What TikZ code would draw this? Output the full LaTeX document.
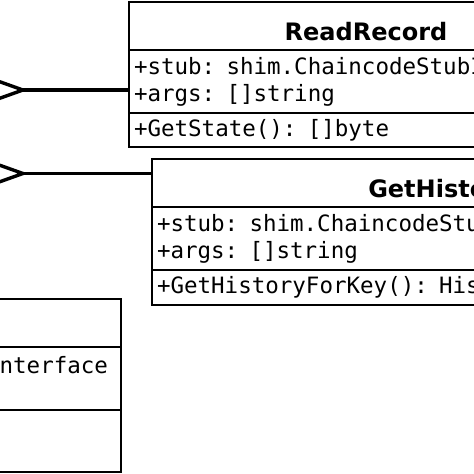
\documentclass[tikz,border=0pt]{standalone}
\usepackage{fontspec}
\newfontfamily\umlmono{DejaVu Sans Mono}
\newfontfamily\umlsans{DejaVu Sans}
\usetikzlibrary{arrows.meta,positioning}
\newcommand{\monosize}{\fontsize{22.5pt}{27pt}\selectfont}
\newcommand{\titlesize}{\fontsize{24pt}{28pt}\selectfont}

\begin{document}
\begin{tikzpicture}[x=1pt,y=-1pt,
  classpart/.style={draw,line width=2.4pt,outer sep=0pt,inner xsep=5pt,inner ysep=0pt,
    align=left,font=\umlmono\monosize},
  classname/.style={classpart,align=center,font=\umlsans\bfseries\titlesize,
    text height=29.5pt,text depth=0pt,minimum height=48pt},
  aggr/.style={line width=3.4pt,-{Diamond[open,length=56pt,width=20pt]}}]
  \useasboundingbox (0,0) rectangle (474,474);
  \clip (0,0) rectangle (474,474);

  % ReadRecord
  \node[classname,text width=464pt,anchor=north west] (rr) at (129,2) {ReadRecord};
  \node[classpart,text width=464pt,minimum height=63pt,below=0pt of rr] (rrattr)
    {+stub: shim.ChaincodeStubI\\+args: []string};
  \node[classpart,text width=464pt,minimum height=34pt,below=0pt of rrattr] (rrops)
    {+GetState(): []byte};

  % GetHistory
  \node[classname,text width=568pt,anchor=north west] (gh) at (152,159) {GetHistory};
  \node[classpart,text width=568pt,minimum height=63pt,below=0pt of gh] (ghattr)
    {+stub: shim.ChaincodeStu\\+args: []string};
  \node[classpart,text width=568pt,minimum height=35pt,below=0pt of ghattr] (ghops)
    {+GetHistoryForKey(): His};

  % class on the left
  \node[classname,text width=466pt,anchor=north east] (lc) at (121,299) {};
  \node[classpart,text width=450pt,inner xsep=13pt,align=right,minimum height=63pt,
    below=0pt of lc] (lcattr) {nterface\\\mbox{}};
  \node[classpart,text width=466pt,minimum height=62pt,below=0pt of lcattr] (lcops) {};

  % aggregations
  \coordinate (whole1) at (-28,90);
  \coordinate (whole2) at (-28,173.5);
  \draw[aggr] (rrattr.west |- whole1) -- (whole1);
  \draw[aggr] (gh.west |- whole2) -- (whole2);
\end{tikzpicture}
\end{document}
